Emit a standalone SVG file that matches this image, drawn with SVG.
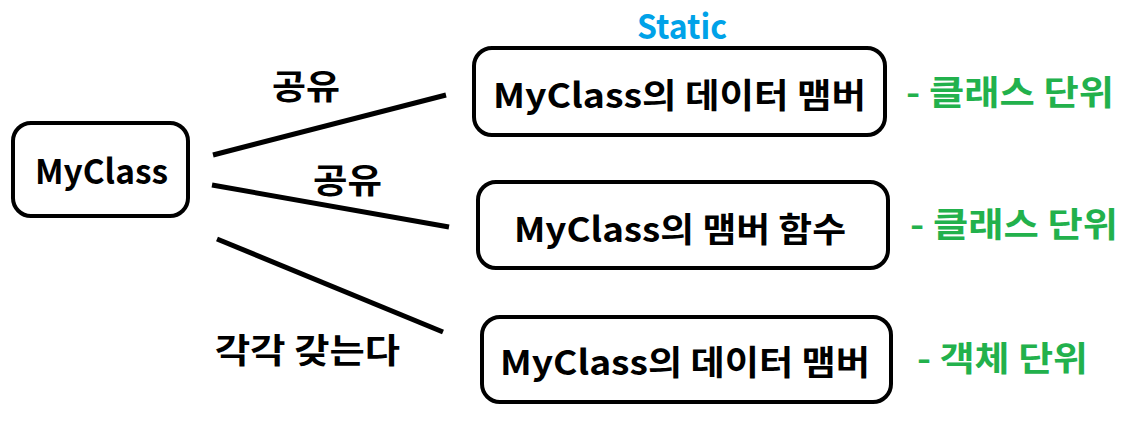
<svg xmlns="http://www.w3.org/2000/svg" width="1143" height="423" viewBox="0 0 1143 423">
<style>
.box{fill:#fff;stroke:#000;stroke-width:4}
.t{font-family:"Noto Sans CJK KR","Liberation Sans",sans-serif;font-weight:bold;font-size:34px;fill:#000}
.g{fill:#22b14c}
.b{fill:#00a2e8}
.c{stroke:#000;stroke-width:5;fill:none}
</style>
<rect width="1143" height="423" fill="#fff"/>
<text class="t b" x="637" y="39" textLength="90" lengthAdjust="spacingAndGlyphs">Static</text>
<g id="myclass">
<rect class="box" x="13" y="123" width="175" height="93" rx="18"/>
<text class="t" x="35" y="184" textLength="133" lengthAdjust="spacingAndGlyphs">MyClass</text>
</g>
<g id="node1">
<rect class="box" x="474" y="48" width="411" height="87" rx="18"/>
<text class="t" x="493" y="108" textLength="373" lengthAdjust="spacingAndGlyphs">MyClass의 데이터 맴버</text>
</g>
<g id="node2">
<rect class="box" x="478" y="182" width="410" height="86" rx="18"/>
<text class="t" x="514" y="242" textLength="332" lengthAdjust="spacingAndGlyphs">MyClass의 맴버 함수</text>
</g>
<g id="node3">
<rect class="box" x="482" y="317" width="409" height="85" rx="18"/>
<text class="t" x="500" y="375" textLength="370" lengthAdjust="spacingAndGlyphs">MyClass의 데이터 맴버</text>
</g>
<g id="connectors">
<line class="c" x1="213" y1="155" x2="446" y2="95"/>
<line class="c" x1="212" y1="185" x2="449" y2="227"/>
<line class="c" x1="217" y1="239" x2="443" y2="332"/>
</g>
<g id="labels">
<text class="t" x="272" y="99" textLength="68" lengthAdjust="spacingAndGlyphs">공유</text>
<text class="t" x="313" y="193" textLength="69" lengthAdjust="spacingAndGlyphs">공유</text>
<text class="t" x="215" y="363" textLength="185" lengthAdjust="spacingAndGlyphs">각각 갖는다</text>
<text class="t g" x="906" y="105" textLength="208" lengthAdjust="spacingAndGlyphs">- 클래스 단위</text>
<text class="t g" x="910" y="237" textLength="208" lengthAdjust="spacingAndGlyphs">- 클래스 단위</text>
<text class="t g" x="917" y="371" textLength="171" lengthAdjust="spacingAndGlyphs">- 객체 단위</text>
</g>
</svg>
